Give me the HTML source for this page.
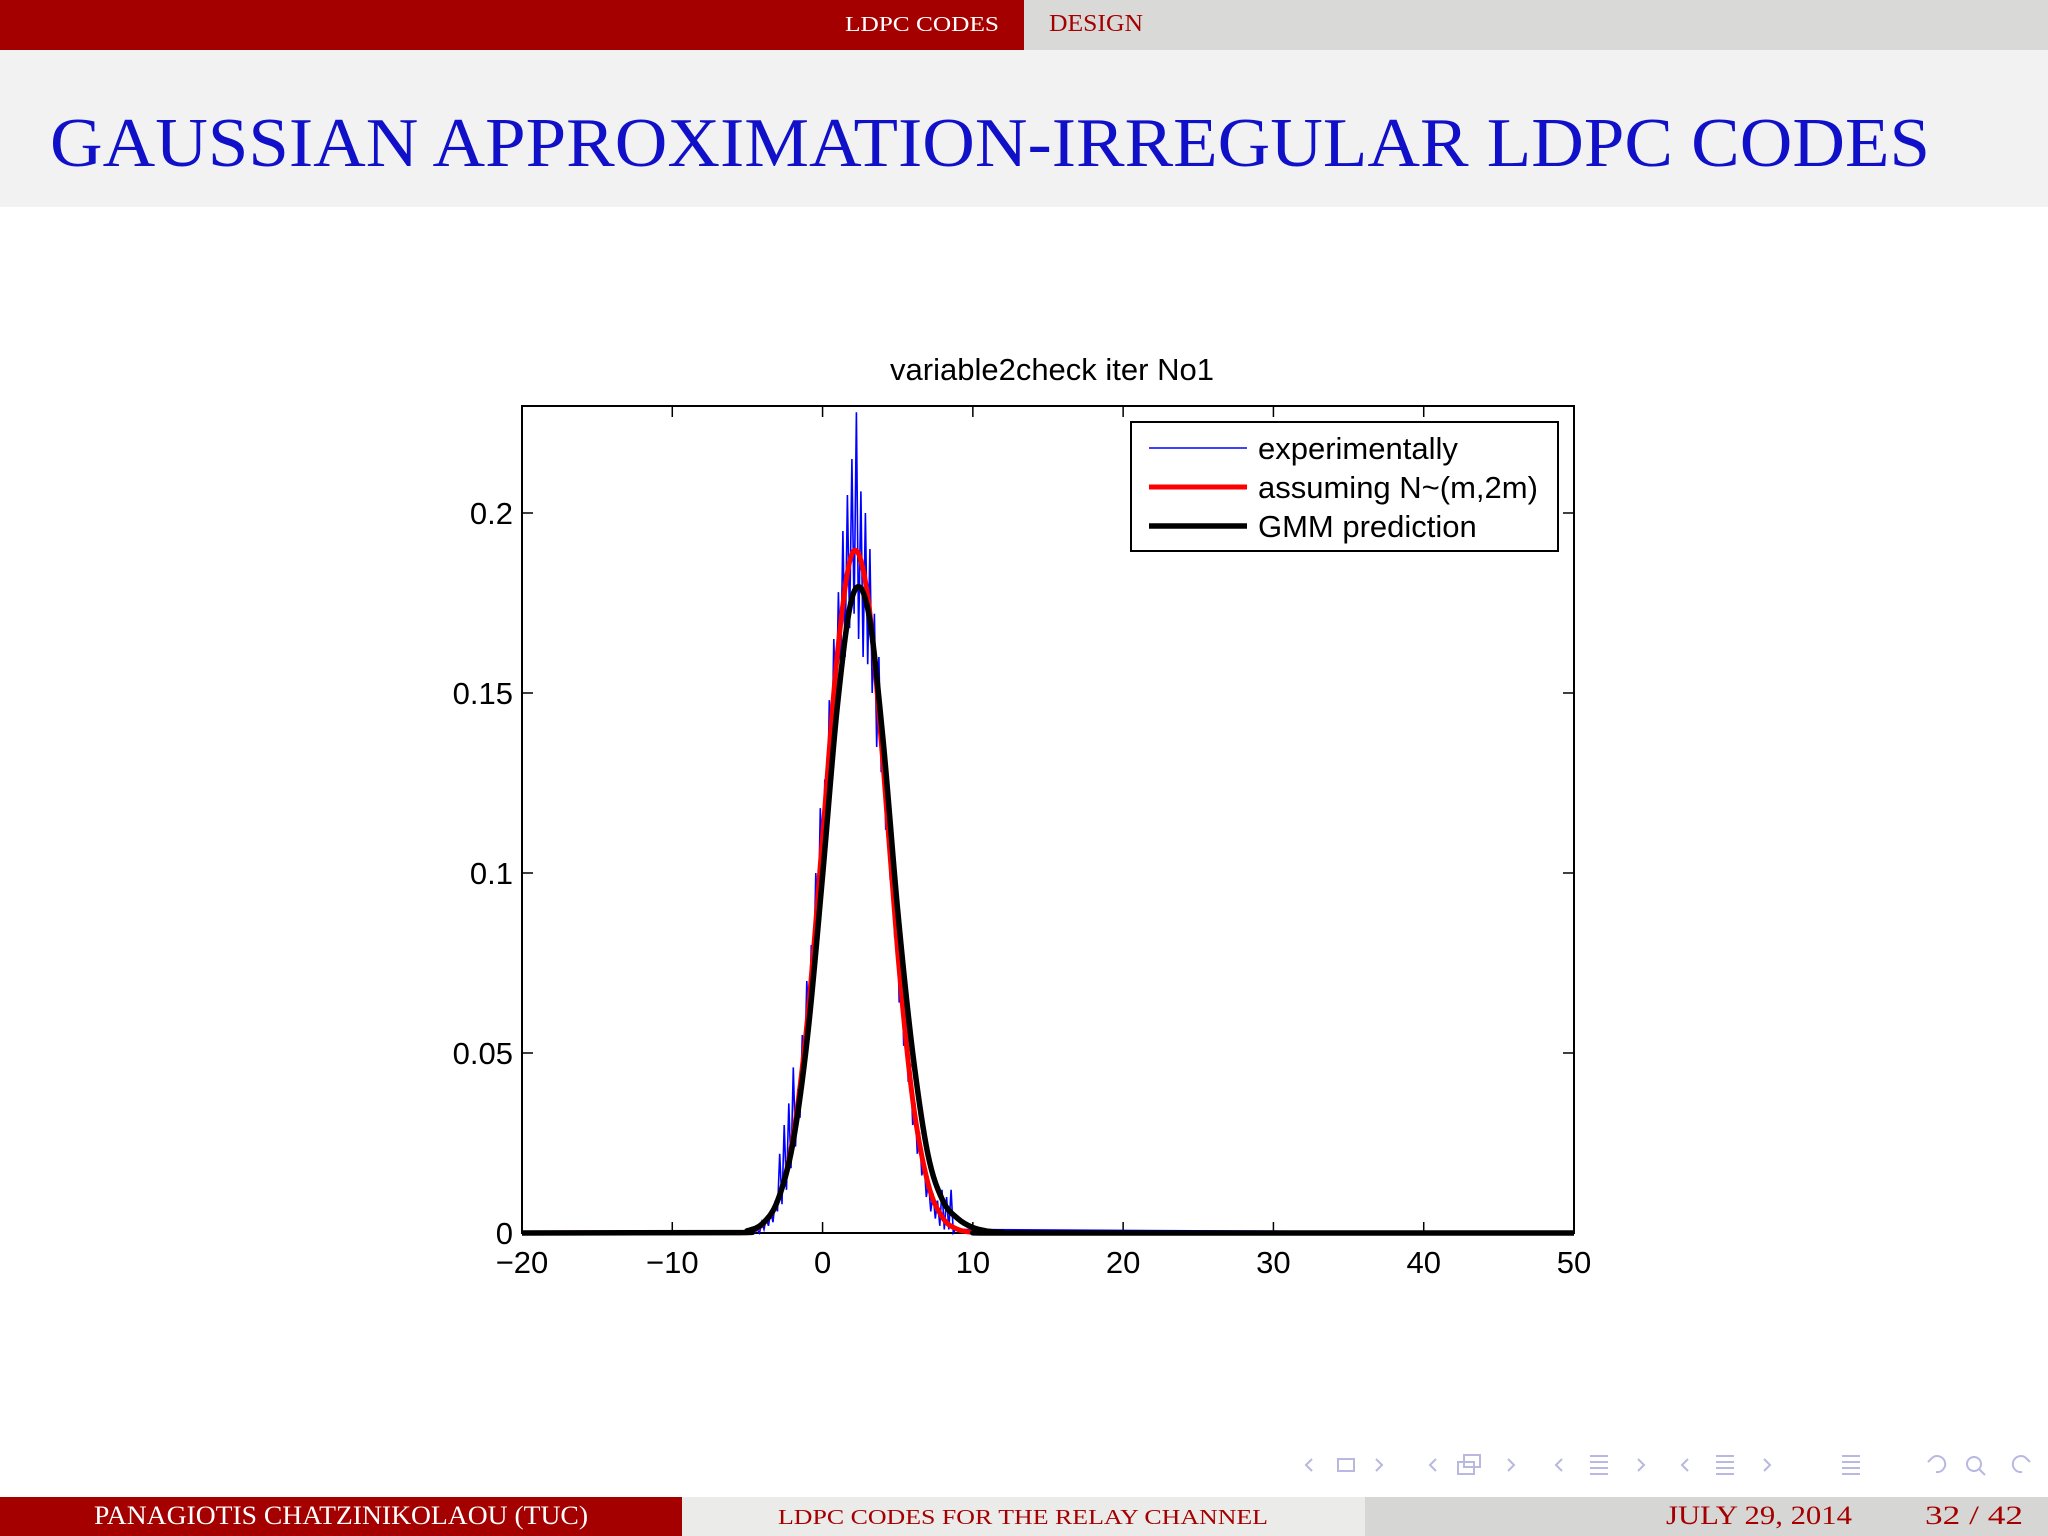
<!DOCTYPE html>
<html><head><meta charset="utf-8"><style>
html,body{margin:0;padding:0;background:#fff;}
svg{display:block;}
text{font-family:"Liberation Sans",sans-serif;}
.serif{font-family:"Liberation Serif",serif;}
</style></head><body>
<svg id="slide" width="2048" height="1536" viewBox="0 0 2048 1536">
  <rect x="0" y="0" width="1024" height="50" fill="#a50000"/>
  <rect x="1024" y="0" width="1024" height="50" fill="#d9d9d7"/>
  <text class="serif" x="999" y="31" font-size="21" fill="#fff" text-anchor="end" textLength="154" lengthAdjust="spacingAndGlyphs">LDPC CODES</text>
  <text class="serif" x="1049" y="31" font-size="24" fill="#a50000" textLength="94" lengthAdjust="spacingAndGlyphs">DESIGN</text>
  <rect x="0" y="50" width="2048" height="157" fill="#f2f2f2"/>
  <text class="serif" x="50" y="166" font-size="70" fill="#1010c8" textLength="1880" lengthAdjust="spacingAndGlyphs">GAUSSIAN APPROXIMATION-IRREGULAR LDPC CODES</text>

  <g id="chart"></g>

  <g id="nav" fill="none" stroke="#b8b8e0" stroke-width="2">
    <path d="M1312 1459 l-6 6 l6 6 M1376 1459 l6 6 l-6 6" /><rect x="1338" y="1459" width="16" height="12"/>
    <path d="M1436 1459 l-6 6 l6 6 M1508 1459 l6 6 l-6 6" /><rect x="1458" y="1462" width="16" height="12"/><rect x="1464" y="1455" width="16" height="12"/>
    <path d="M1562 1459 l-6 6 l6 6 M1638 1459 l6 6 l-6 6 M1590 1456 h18 M1590 1462 h18 M1590 1468 h18 M1590 1474 h18"/>
    <path d="M1688 1459 l-6 6 l6 6 M1764 1459 l6 6 l-6 6 M1716 1456 h18 M1716 1462 h18 M1716 1468 h18 M1716 1474 h18"/>
    <path d="M1842 1456 h18 M1842 1462 h18 M1842 1468 h18 M1842 1474 h18"/>
    <path d="M1932 1458 a8 8 0 1 1 4 14 M1932 1458 l-4 4"/><circle cx="1974" cy="1464" r="7"/><path d="M1979 1469 l6 6"/><path d="M2026 1458 a8 8 0 1 0 -4 14 M2026 1458 l4 4"/>
  </g>

  <rect x="0" y="1497" width="682" height="39" fill="#a50000"/>
  <rect x="682" y="1497" width="683" height="39" fill="#ebebea"/>
  <rect x="1365" y="1497" width="683" height="39" fill="#d6d6d4"/>
  <text class="serif" x="94" y="1524" font-size="26" fill="#fff" textLength="494" lengthAdjust="spacingAndGlyphs">PANAGIOTIS CHATZINIKOLAOU  (TUC)</text>
  <text class="serif" x="778" y="1524" font-size="21" fill="#a50000" textLength="490" lengthAdjust="spacingAndGlyphs">LDPC CODES FOR THE RELAY CHANNEL</text>
  <text class="serif" x="1666" y="1524" font-size="26" fill="#a50000" textLength="186" lengthAdjust="spacingAndGlyphs">JULY 29, 2014</text>
  <text class="serif" x="1925" y="1524" font-size="26" fill="#a50000" textLength="98" lengthAdjust="spacingAndGlyphs">32 / 42</text>
</svg>
<script>
// ---- chart data ----
const xTicks = [-20, -10, 0, 10, 20, 30, 40, 50];
const xTickLabels = ["\u221220", "\u221210", "0", "10", "20", "30", "40", "50"];
const yTicks = [0, 0.05, 0.1, 0.15, 0.2];
const yTickLabels = ["0", "0.05", "0.1", "0.15", "0.2"];
const expStart = -4.5;
const expBinWidth = 0.15;
const expValues = [0.000,0.001,0.000,0.003,0.001,0.004,0.002,0.006,0.003,0.009,0.006,
 0.022,0.008,0.030,0.012,0.036,0.018,0.046,0.024,0.040,0.032,0.055,0.044,0.070,0.058,0.080,0.072,0.100,0.085,0.118,
 0.096,0.126,0.112,0.148,0.130,0.165,0.142,0.178,0.155,0.195,0.160,0.205,0.168,0.215,0.172,0.228,0.165,0.206,0.160,0.200,
 0.158,0.190,0.150,0.172,0.135,0.160,0.128,0.140,0.112,0.122,0.098,0.106,0.082,0.090,0.064,0.074,0.052,0.060,0.042,0.047,
 0.030,0.036,0.022,0.028,0.016,0.020,0.010,0.014,0.006,0.011,0.004,0.009,0.002,0.012,0.001,0.010,0.001,0.012,0.000,0.001];
const curveX = [-20,-6,-5,-4,-3,-2,-1,0,1,2,3,4,5,6,7,8,9,10,11,12,13,50];
const redValues = [0,0.0001,0.0005,0.0024,0.0089,0.0257,0.0595,0.110,0.1615,0.189,0.177,0.1316,0.078,0.037,0.014,0.0042,0.001,0.0002,0,0,0,0];
const blackValues = [0,0.0001,0.0006,0.0026,0.0089,0.0244,0.0546,0.0993,0.147,0.177,0.1735,0.138,0.0896,0.050,0.022,0.009,0.004,0.0015,0.0005,0.0002,0,0];
const legendLabels = ["experimentally", "assuming N~(m,2m)", "GMM prediction"];

const NS = "http://www.w3.org/2000/svg";
const L = 522, R = 1574, T = 406, B = 1233;
const xMin = -20, xMax = 50, yMin = 0, yMax = (B - T) / 3600;
const sx = v => L + (v - xMin) / (xMax - xMin) * (R - L);
const sy = v => B - (v - yMin) / (yMax - yMin) * (B - T);
const chart = document.getElementById('chart');
function mk(tag, attrs, parent) {
  const e = document.createElementNS(NS, tag);
  for (const k in attrs) e.setAttribute(k, attrs[k]);
  (parent || chart).appendChild(e);
  return e;
}
const title = mk('text', {x: 1052, y: 380, 'font-size': 31, 'text-anchor': 'middle', fill: '#000'});
title.textContent = 'variable2check iter No1';



const frame = mk('rect', {x: L, y: T, width: R - L, height: B - T, fill: '#fff', stroke: '#000', 'stroke-width': 2});



xTicks.forEach((v, i) => {
  const x = sx(v);
  const t = mk('path', {d: `M${x} ${B} v-11 M${x} ${T} v11`, stroke: '#000', 'stroke-width': 1.5});
  
  
  const lb = mk('text', {x: x, y: 1273, 'font-size': 31, 'text-anchor': 'middle', fill: '#000'});
  lb.textContent = xTickLabels[i];
  
  
});
yTicks.forEach((v, i) => {
  const y = sy(v);
  const t = mk('path', {d: `M${L} ${y} h11 M${R} ${y} h-11`, stroke: '#000', 'stroke-width': 1.5});
  
  
  const lb = mk('text', {x: 513, y: y + 11, 'font-size': 31, 'text-anchor': 'end', fill: '#000'});
  lb.textContent = yTickLabels[i];
  
  
});

// experimental series
let d = `M${sx(xMin)} ${sy(0)} L${sx(expStart)} ${sy(0)}`;
expValues.forEach((v, i) => { d += ` L${sx(expStart + i * expBinWidth).toFixed(1)} ${sy(v).toFixed(1)}`; });
d += ` L${sx(xMax)} ${sy(0)}`;
const exp = mk('path', {d: d, fill: 'none', stroke: '#0000ff', 'stroke-width': 1.6});



function smooth(xs, ys) {
  const P = xs.map((x, i) => [sx(x), sy(ys[i])]);
  let s = `M${P[0][0]} ${P[0][1]}`;
  for (let i = 0; i < P.length - 1; i++) {
    const p0 = P[Math.max(0, i - 1)], p1 = P[i], p2 = P[i + 1], p3 = P[Math.min(P.length - 1, i + 2)];
    if (i === 0 || i === P.length - 2) { s += ` L${p2[0]} ${p2[1]}`; continue; }
    const c1 = [p1[0] + (p2[0] - p0[0]) / 6, p1[1] + (p2[1] - p0[1]) / 6];
    const c2 = [p2[0] - (p3[0] - p1[0]) / 6, p2[1] - (p3[1] - p1[1]) / 6];
    s += ` C${c1[0].toFixed(1)} ${c1[1].toFixed(1)} ${c2[0].toFixed(1)} ${c2[1].toFixed(1)} ${p2[0].toFixed(1)} ${p2[1].toFixed(1)}`;
  }
  return s;
}
const red = mk('path', {d: smooth(curveX, redValues), fill: 'none', stroke: '#ff0000', 'stroke-width': 5, 'stroke-linejoin': 'round'});


const black = mk('path', {d: smooth(curveX, blackValues), fill: 'none', stroke: '#000', 'stroke-width': 5.5, 'stroke-linejoin': 'round'});



// legend
const lg = mk('rect', {x: 1131, y: 422, width: 427, height: 129, fill: '#fff', stroke: '#000', 'stroke-width': 2});


const legColors = ['#0000ff', '#ff0000', '#000'];
const legWidths = [1.6, 5, 5.5];
legendLabels.forEach((lab, i) => {
  const y = 448 + i * 39;
  const ln = mk('line', {x1: 1149, x2: 1247, y1: y, y2: y, stroke: legColors[i], 'stroke-width': legWidths[i]});
  
  
  const tx = mk('text', {x: 1258, y: y + 11, 'font-size': 31, fill: '#000'});
  tx.textContent = lab;
  
  
});
</script>
</body></html>
